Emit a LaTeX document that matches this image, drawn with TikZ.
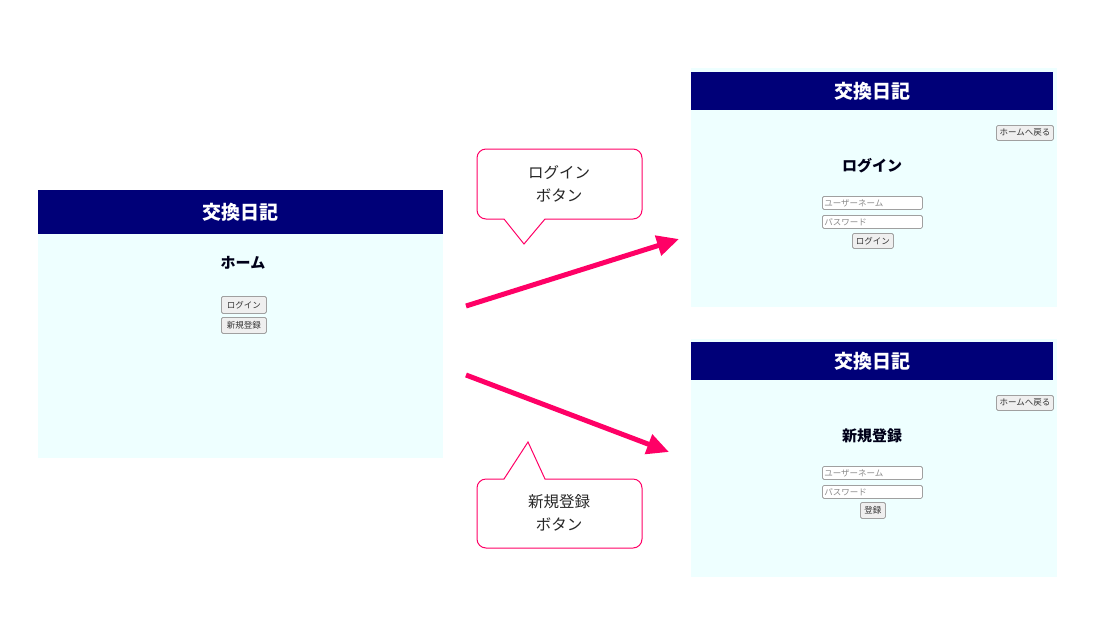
\documentclass[tikz,border=0pt]{standalone}
\usepackage{fontspec}
\setmainfont{Noto Sans CJK JP}
\usetikzlibrary{arrows.meta}
\definecolor{navyhd}{HTML}{000078}
\definecolor{panelbg}{HTML}{EEFFFF}
\definecolor{pinkc}{HTML}{FF0066}
\definecolor{btnbg}{HTML}{EFEFEF}
\definecolor{btnbd}{HTML}{A0A0A0}
\definecolor{phgray}{HTML}{8A8A8A}
\tikzset{
  panel/.style={fill=panelbg, draw=none, inner sep=0pt, anchor=north west},
  header/.style={fill=navyhd, draw=none, text=white, font=\fontsize{19}{21}\selectfont\bfseries, inner sep=0pt, anchor=north west},
  heading/.style={font=\fontsize{15}{17}\selectfont\bfseries, text=black!90!blue, inner sep=0pt},
  btn/.style={fill=btnbg, draw=btnbd, line width=0.8pt, rounded corners=1.5pt, font=\fontsize{8.5}{9}\selectfont, text=black!80, inner sep=0pt, anchor=north west},
  field/.style={fill=white, draw=btnbd, line width=0.8pt, rounded corners=1.5pt, font=\fontsize{8.5}{9}\selectfont, text=phgray, inner sep=2pt, anchor=north west, minimum width=100pt, minimum height=13pt, text width=96pt, align=left},
  callout/.style={draw=pinkc, line width=1pt, fill=white},
  cltext/.style={font=\fontsize{15.5}{23}\selectfont, align=center, text=black!85, inner sep=0pt},
  flow/.style={pinkc, line width=5pt, -{Triangle[length=22pt,width=20pt]}}
}
\begin{document}
\begin{tikzpicture}[x=1pt,y=-1pt]
\useasboundingbox (0,0) rectangle (1114,622);
\fill[white] (0,0) rectangle (1114,622);
% Home panel
\node[panel, minimum width=405pt, minimum height=268pt] (home) at (38,190) {};
\node[header, minimum width=405pt, minimum height=44pt] (homehd) at (38,190) {交換日記};
\node[heading] (homeh) at (243,263) {ホーム};
\node[btn, minimum width=45pt, minimum height=17pt] (hbtn1) at (221,296) {ログイン};
\node[btn, minimum width=45pt, minimum height=16pt] (hbtn2) at (221,317) {新規登録};
% Login panel
\node[panel, minimum width=366pt, minimum height=239pt] (login) at (691,68) {};
\node[header, minimum width=362pt, minimum height=38pt] (loginhd) at (691,72) {交換日記};
\node[btn, minimum width=57pt, minimum height=15pt] (lback) at (996,125) {ホームへ戻る};
\node[heading] (loginh) at (872,166) {ログイン};
\node[field] (lf1) at (822,196) {ユーザーネーム};
\node[field] (lf2) at (822,215) {パスワード};
\node[btn, minimum width=41pt, minimum height=15pt] (lbtn) at (852,233) {ログイン};
% Register panel
\node[panel, minimum width=366pt, minimum height=238pt] (reg) at (691,339) {};
\node[header, minimum width=362pt, minimum height=38pt] (reghd) at (691,342) {交換日記};
\node[btn, minimum width=57pt, minimum height=15pt] (rback) at (996,395) {ホームへ戻る};
\node[heading] (regh) at (872,436) {新規登録};
\node[field] (rf1) at (822,466) {ユーザーネーム};
\node[field] (rf2) at (822,485) {パスワード};
\node[btn, minimum width=25pt, minimum height=16pt] (rbtn) at (860,502) {登録};
% Arrows
\coordinate (a1s) at (466,306);
\coordinate (a1e) at (679,239);
\coordinate (a2s) at (466,375);
\coordinate (a2e) at (669,452);
\draw[flow] (a1s) -- (a1e);
\draw[flow] (a2s) -- (a2e);
% Callout 1
\draw[callout] (504,219) -- (524,244) -- (545,219) [rounded corners=9pt] -- (642,219) -- (642,149) -- (477,149) -- (477,219) [sharp corners] -- cycle;
\node[cltext] (cl1) at (559,184) {ログイン\\ボタン};
% Callout 2
\draw[callout] (504,479) -- (528,442) -- (545,479) [rounded corners=9pt] -- (642,479) -- (642,548) -- (477,548) -- (477,479) [sharp corners] -- cycle;
\node[cltext] (cl2) at (559,513) {新規登録\\ボタン};
\end{tikzpicture}
\end{document}
